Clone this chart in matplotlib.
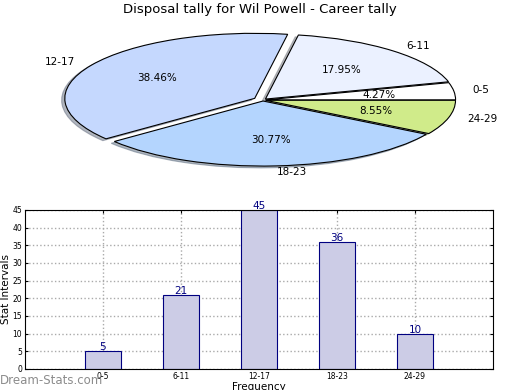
import matplotlib
matplotlib.use('Agg')
import matplotlib.pyplot as plt
import numpy as np

ranges = ['0-5', '6-11', '12-17', '18-23', '24-29']
counts = [5, 21, 45, 36, 10]
pie_colors = ['#ffffff', '#ebf1ff', '#c5d8fe', '#b4d5fe', '#d0eb8a']
explode = [0.015, 0.02, 0.05, 0.015, 0.015]

fig = plt.figure(figsize=(5.2, 3.9), dpi=100)

# pie on top, squashed like the old non-equal-aspect version
ax1 = fig.add_axes([0.049, 0.535, 0.913, 0.417])
wedges, texts, autotexts = ax1.pie(counts, labels=ranges, colors=pie_colors,
                                   explode=explode, autopct='%1.2f%%',
                                   shadow={'ox': -0.012, 'oy': -0.02, 'shade': 0.5},
                                   startangle=0,
                                   wedgeprops={'edgecolor': 'black', 'linewidth': 0.8},
                                   textprops={'fontsize': 7.5})
ax1.set_aspect('auto')
ax1.set_xlim(-1.25, 1.25)
ax1.set_ylim(-1.25, 1.25)
fig.text(0.5, 1 - 10 / 390, 'Disposal tally for Wil Powell - Career tally',
         ha='center', va='center', fontsize=9.5)

# bar chart below
ax2 = fig.add_axes([0.048, 0.054, 0.9, 0.408])
x = np.arange(len(ranges))
ax2.bar(x, counts, width=0.45, color='#ccccE6', edgecolor='#000080', linewidth=0.8,
        zorder=2)
for xi, c in zip(x, counts):
    ax2.text(xi, c - 0.3, str(c), ha='center', va='bottom', color='#000080',
             fontsize=7.5, zorder=3)
ax2.set_xlim(-1, 5)
ax2.set_ylim(0, 45)
ax2.set_xticks(x)
ax2.set_xticklabels(ranges)
ax2.set_yticks(np.arange(0, 46, 5))
ax2.tick_params(labelsize=5.5, direction='in', length=2, top=True, right=True, pad=2)
ax2.grid(True, linestyle=':', color='#aaaaaa', linewidth=1, zorder=0)
ax2.set_ylabel('Stat Intervals', fontsize=7.5, labelpad=1)
ax2.set_xlabel('Frequency', fontsize=7.5, labelpad=1)

fig.text(0.0, 1 - 381 / 390, 'Dream-Stats.com', color='#8c8c8c', fontsize=8.5,
         ha='left', va='center')

fig.savefig('out.png', dpi=100)
